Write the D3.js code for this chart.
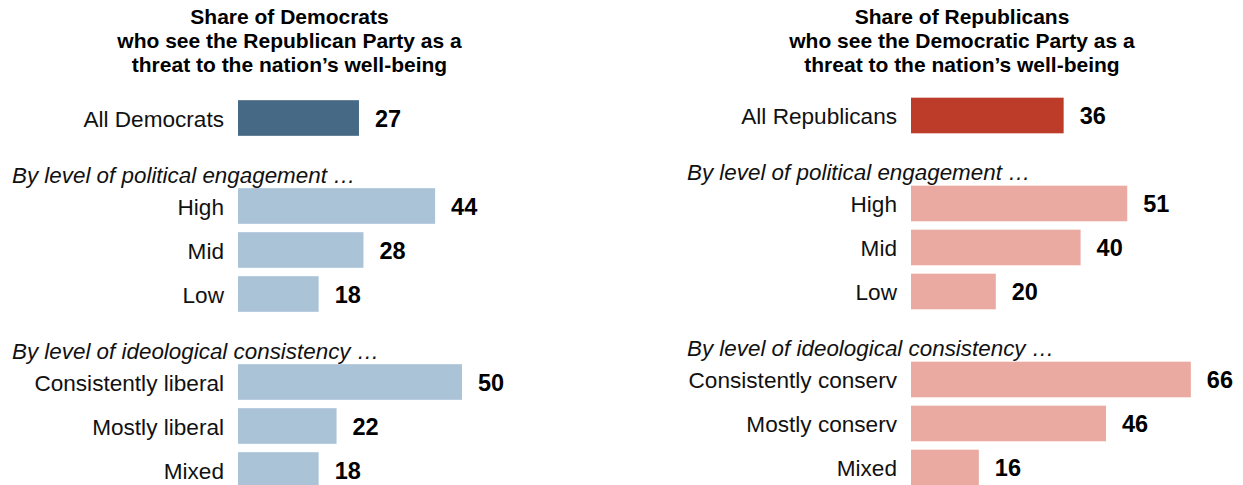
<!DOCTYPE html>
<html>
<head>
<meta charset="utf-8">
<script src="https://cdn.jsdelivr.net/npm/d3@7"></script>
<style>
  html, body { margin: 0; padding: 0; background: #fff; }
  svg { display: block; font-family: "Liberation Sans", Arial, sans-serif; }
</style>
</head>
<body>
<svg id="chart" width="1243" height="485"></svg>
<script>
// ---- Data ----
const demTitle = ["Share of Democrats", "who see the Republican Party as a", "threat to the nation\u2019s well-being"];
const repTitle = ["Share of Republicans", "who see the Democratic Party as a", "threat to the nation\u2019s well-being"];
const groupHeaders = ["By level of political engagement \u2026", "By level of ideological consistency \u2026"];
const demCategories = ["All Democrats", "High", "Mid", "Low", "Consistently liberal", "Mostly liberal", "Mixed"];
const demValues = [27, 44, 28, 18, 50, 22, 18];
const repCategories = ["All Republicans", "High", "Mid", "Low", "Consistently conserv", "Mostly conserv", "Mixed"];
const repValues = [36, 51, 40, 20, 66, 46, 16];

// ---- Drawing ----
const svg = d3.select("#chart");

function panel(opts) {
  const { title, cats, vals, titleX, x0, pxPerUnit, y0, totalColor, subColor, headerX } = opts;
  const g = svg.append("g");

  // Row slots: total, header, 3 rows, header, 3 rows
  const slots = [cats[0], "__h0", cats[1], cats[2], cats[3], "__h1", cats[4], cats[5], cats[6]];
  const step = 44;
  const y = d3.scaleBand().domain(slots).range([y0, y0 + step * slots.length])
    .paddingInner(0.19).paddingOuter(0.095);
  const x = d3.scaleLinear().domain([0, 100]).range([x0, x0 + pxPerUnit * 100]);

  // Title
  const t = g.append("text")
    .attr("x", titleX).attr("y", 23.5)
    .attr("text-anchor", "middle")
    .attr("font-size", 21).attr("font-weight", "bold").attr("fill", "#000");
  title.forEach((line, i) => {
    t.append("tspan").attr("x", titleX).attr("dy", i === 0 ? 0 : 24).text(line);
  });

  // Group headers
  ["__h0", "__h1"].forEach((k, i) => {
    g.append("text")
      .attr("x", headerX)
      .attr("y", y(k) + y.bandwidth() + 3)
      .attr("font-size", 22.4).attr("font-style", "italic").attr("fill", "#111")
      .text(groupHeaders[i]);
  });

  const rows = cats.map((c, i) => ({ c, v: vals[i], i }));

  g.selectAll("rect.bar").data(rows).join("rect")
    .attr("class", "bar")
    .attr("x", x(0))
    .attr("y", d => y(d.c))
    .attr("width", d => x(d.v) - x(0))
    .attr("height", y.bandwidth())
    .attr("fill", d => d.i === 0 ? totalColor : subColor);

  g.selectAll("text.cat").data(rows).join("text")
    .attr("class", "cat")
    .attr("x", x(0) - 14)
    .attr("y", d => y(d.c) + y.bandwidth() / 2 + 8.5)
    .attr("text-anchor", "end")
    .attr("font-size", 22.6).attr("fill", "#111")
    .text(d => d.c);

  g.selectAll("text.val").data(rows).join("text")
    .attr("class", "val")
    .attr("x", d => x(d.v) + 16)
    .attr("y", d => y(d.c) + y.bandwidth() / 2 + 8.5)
    .attr("font-size", 23.5).attr("font-weight", "bold").attr("fill", "#000")
    .text(d => d.v);
}

panel({
  title: demTitle, cats: demCategories, vals: demValues,
  titleX: 289.5, x0: 238, pxPerUnit: 4.48, y0: 96, headerX: 12,
  totalColor: "#466985", subColor: "#abc3d7"
});
panel({
  title: repTitle, cats: repCategories, vals: repValues,
  titleX: 962, x0: 911, pxPerUnit: 4.24, y0: 93.5, headerX: 687,
  totalColor: "#bd3b29", subColor: "#eaaaa1"
});
</script>
</body>
</html>
